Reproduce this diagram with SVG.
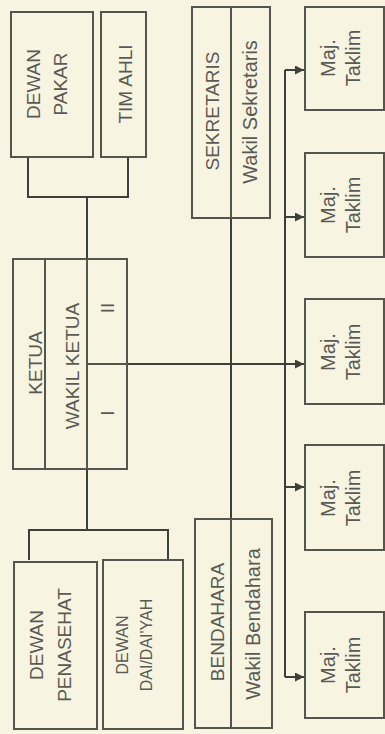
<svg xmlns="http://www.w3.org/2000/svg" width="385" height="734" viewBox="0 0 385 734">
<defs>
<style>
.box{fill:none;stroke:#55554f;stroke-width:2}
.ln{fill:none;stroke:#3e3e3a;stroke-width:2}
.t{font-family:"Liberation Sans",Arial,sans-serif;font-size:19px;fill:#5a5a55;text-anchor:middle}
.m{font-size:20px}
.s{font-size:16px}
</style>
<marker id="ah" viewBox="0 0 10 10" refX="10" refY="5" markerWidth="4.5" markerHeight="4.5" orient="auto" markerUnits="strokeWidth">
<path d="M0,0 L10,5 L0,10 Z" fill="#3e3e3a"/>
</marker>
</defs>
<rect width="385" height="734" fill="#f8f4e2"/>

<g id="connectors">
<path class="ln" d="M28,157 V197 H128 V157"/>
<path class="ln" d="M87,197 V530"/>
<path class="ln" d="M29,560 V530 H168 V560"/>
<path class="ln" d="M231,218 V519"/>
<path class="ln" d="M87,364 H285"/>
<path class="ln" d="M285,70 V677"/>
<path class="ln" d="M285,70 H304" marker-end="url(#ah)"/>
<path class="ln" d="M285,217 H304" marker-end="url(#ah)"/>
<path class="ln" d="M285,364 H304" marker-end="url(#ah)"/>
<path class="ln" d="M285,487 H304" marker-end="url(#ah)"/>
<path class="ln" d="M285,677 H304" marker-end="url(#ah)"/>
</g>

<g id="dewan-pakar">
<rect class="box" x="11" y="12" width="82" height="145"/>
<text class="t" transform="translate(40,84) rotate(-90)">DEWAN</text>
<text class="t" transform="translate(67,84) rotate(-90)">PAKAR</text>
</g>

<g id="tim-ahli">
<rect class="box" x="101" y="12" width="45" height="145"/>
<text class="t" transform="translate(132,84) rotate(-90)">TIM AHLI</text>
</g>

<g id="ketua">
<rect class="box" x="13" y="259" width="114" height="210"/>
<line class="box" x1="45" y1="259" x2="45" y2="469"/>
<line class="box" x1="87" y1="259" x2="87" y2="469"/>
<line class="box" x1="87" y1="364" x2="127" y2="364"/>
<text class="t" transform="translate(42,363) rotate(-90)">KETUA</text>
<text class="t" transform="translate(79,366) rotate(-90)">WAKIL KETUA</text>
<text class="t" transform="translate(114,308) rotate(-90)">II</text>
<text class="t" transform="translate(114,413) rotate(-90)">I</text>
</g>

<g id="dewan-penasehat">
<rect class="box" x="14" y="562" width="83" height="167"/>
<text class="t" transform="translate(43,645) rotate(-90)">DEWAN</text>
<text class="t" transform="translate(71,645) rotate(-90)">PENASEHAT</text>
</g>

<g id="dewan-daidaiyah">
<rect class="box" x="103" y="560" width="80" height="169"/>
<text class="t s" transform="translate(128,645) rotate(-90)">DEWAN</text>
<text class="t s" transform="translate(152,645) rotate(-90)">DAI/DAI'YAH</text>
</g>

<g id="sekretaris">
<rect class="box" x="192" y="7" width="78" height="211"/>
<line class="box" x1="231" y1="7" x2="231" y2="218"/>
<text class="t" transform="translate(219,111) rotate(-90)">SEKRETARIS</text>
<text class="t m" transform="translate(257,112) rotate(-90)">Wakil Sekretaris</text>
</g>

<g id="bendahara">
<rect class="box" x="195" y="519" width="77" height="209"/>
<line class="box" x1="231" y1="519" x2="231" y2="728"/>
<text class="t" transform="translate(224,622) rotate(-90)">BENDAHARA</text>
<text class="t m" transform="translate(260,624) rotate(-90)">Wakil Bendahara</text>
</g>

<g id="taklim-1">
<rect class="box" x="305" y="7" width="79" height="103"/>
<text class="t m" transform="translate(335,58) rotate(-90)">Maj.</text>
<text class="t m" transform="translate(360,58) rotate(-90)">Taklim</text>
</g>
<g id="taklim-2">
<rect class="box" x="305" y="153" width="79" height="104"/>
<text class="t m" transform="translate(335,205) rotate(-90)">Maj.</text>
<text class="t m" transform="translate(360,205) rotate(-90)">Taklim</text>
</g>
<g id="taklim-3">
<rect class="box" x="305" y="299" width="79" height="105"/>
<text class="t m" transform="translate(335,352) rotate(-90)">Maj.</text>
<text class="t m" transform="translate(360,352) rotate(-90)">Taklim</text>
</g>
<g id="taklim-4">
<rect class="box" x="305" y="445" width="79" height="105"/>
<text class="t m" transform="translate(335,498) rotate(-90)">Maj.</text>
<text class="t m" transform="translate(360,498) rotate(-90)">Taklim</text>
</g>
<g id="taklim-5">
<rect class="box" x="305" y="612" width="79" height="106"/>
<text class="t m" transform="translate(335,665) rotate(-90)">Maj.</text>
<text class="t m" transform="translate(360,665) rotate(-90)">Taklim</text>
</g>
</svg>
